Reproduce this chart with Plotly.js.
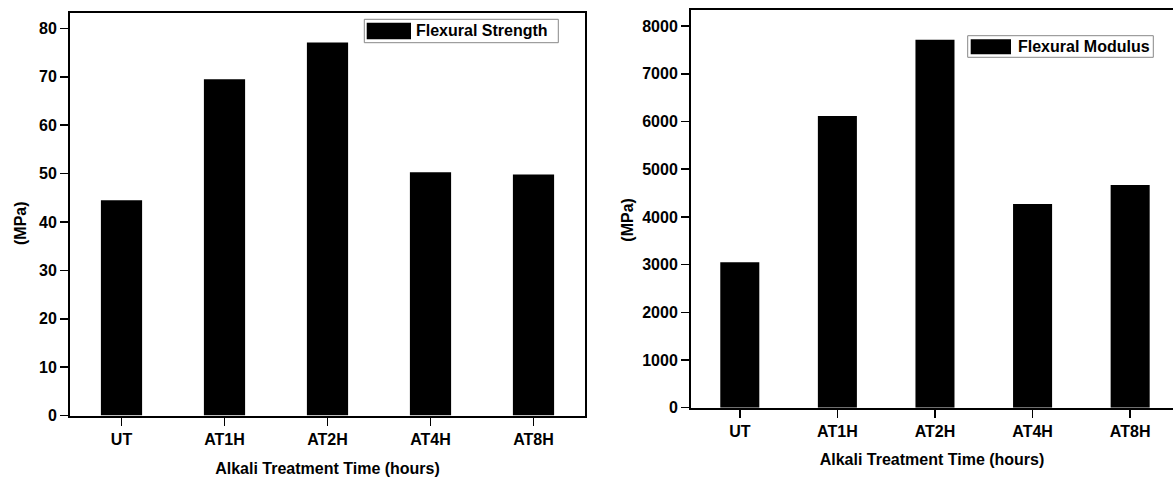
<!DOCTYPE html>
<html>
<head>
<meta charset="utf-8">
<script src="https://cdn.plot.ly/plotly-3.0.1.min.js"></script>
<style>
html,body{margin:0;padding:0;overflow:hidden;background:#fff;}
#chart{width:1173px;height:478px;}
</style>
</head>
<body>
<div id="chart"></div>
<script>
const categories = ["UT", "AT1H", "AT2H", "AT4H", "AT8H"];
const strengthValues = [44.5, 69.5, 77.1, 50.3, 49.8];
const modulusValues = [3048, 6115, 7715, 4270, 4669];
const strengthName = "Flexural Strength";
const modulusName = "Flexural Modulus";
const xTitle = "Alkali Treatment Time (hours)";
const yTitle = "(MPa)";

const W = 1173, H = 478;
const px = x => x / W;
const py = y => 1 - y / H;

const FONT = "Liberation Sans, Arial, sans-serif";
const tickFont = {family: FONT, size: 16, color: "#000", weight: "bold"};
const titleFont = {family: FONT, size: 16, color: "#000", weight: "bold"};
const legendFont = {family: FONT, size: 16, color: "#000", weight: "bold"};

const traces = [
  {type: "bar", x: categories, y: strengthValues, name: strengthName,
   width: 0.4, marker: {color: "#000"}, xaxis: "x", yaxis: "y", showlegend: false, hoverinfo: "x+y"},
  {type: "bar", x: categories, y: modulusValues, name: modulusName,
   width: 0.4, marker: {color: "#000"}, xaxis: "x2", yaxis: "y2", showlegend: false, hoverinfo: "x+y"}
];

function xAxis(domain, anchor, range, standoff) {
  return {domain: domain, anchor: anchor, type: "category", range: range,
    showline: true, linewidth: 2, linecolor: "#000", mirror: true,
    ticks: "outside", ticklen: 8, tickwidth: 1.5, tickcolor: "#000",
    tickfont: tickFont, showgrid: false, zeroline: false,
    title: {text: xTitle, font: titleFont, standoff: standoff}};
}
function yAxis(domain, anchor, range, dtick, mirror) {
  return {domain: domain, anchor: anchor, range: range, dtick: dtick,
    showline: true, linewidth: 2, linecolor: "#000", mirror: mirror,
    ticks: "outside", ticklen: 8, tickwidth: 1.5, tickcolor: "#000",
    tickfont: tickFont, showgrid: false, zeroline: false};
}

function legendShapes(box, sw) {
  return [
    {type: "rect", xref: "paper", yref: "paper", x0: px(box[0]), x1: px(box[1]), y0: py(box[3]), y1: py(box[2]),
     line: {color: "#888", width: 1}, fillcolor: "#fff"},
    {type: "rect", xref: "paper", yref: "paper", x0: px(sw[0]), x1: px(sw[1]), y0: py(sw[3]), y1: py(sw[2]),
     line: {width: 0}, fillcolor: "#000"}
  ];
}

const layout = {
  width: W, height: H,
  margin: {l: 0, r: 0, t: 0, b: 0},
  paper_bgcolor: "#fff", plot_bgcolor: "#fff",
  xaxis: xAxis([px(70), px(585)], "y", [-0.5, 4.5], 16),
  yaxis: yAxis([py(415.5), py(13)], "x", [0, 83.2], 10, true),
  xaxis2: xAxis([px(691), 1], "y2", [-0.5, 4.439], 15),
  yaxis2: yAxis([py(407.7), py(10)], "x2", [0, 8338], 1000, false),
  shapes: [].concat(
    legendShapes([364.3, 558.3, 19.3, 42.7], [366.7, 411, 22.7, 39.3]),
    legendShapes([967.7, 1153.3, 35.7, 57.3], [970.7, 1011, 39.3, 54.3])
  ),
  annotations: [
    {xref: "paper", yref: "paper", x: px(414), y: py(31), xanchor: "left", yanchor: "middle",
     text: strengthName, showarrow: false, font: legendFont},
    {xref: "paper", yref: "paper", x: px(1015.7), y: py(46.5), xanchor: "left", yanchor: "middle",
     text: modulusName, showarrow: false, font: legendFont},
    {xref: "paper", yref: "paper", x: px(20), y: py(223), xanchor: "center", yanchor: "middle",
     textangle: -90, text: yTitle, showarrow: false, font: titleFont},
    {xref: "paper", yref: "paper", x: px(626.7), y: py(220), xanchor: "center", yanchor: "middle",
     textangle: -90, text: yTitle, showarrow: false, font: titleFont}
  ]
};

Plotly.newPlot("chart", traces, layout, {displayModeBar: false, staticPlot: true});
</script>
</body>
</html>
